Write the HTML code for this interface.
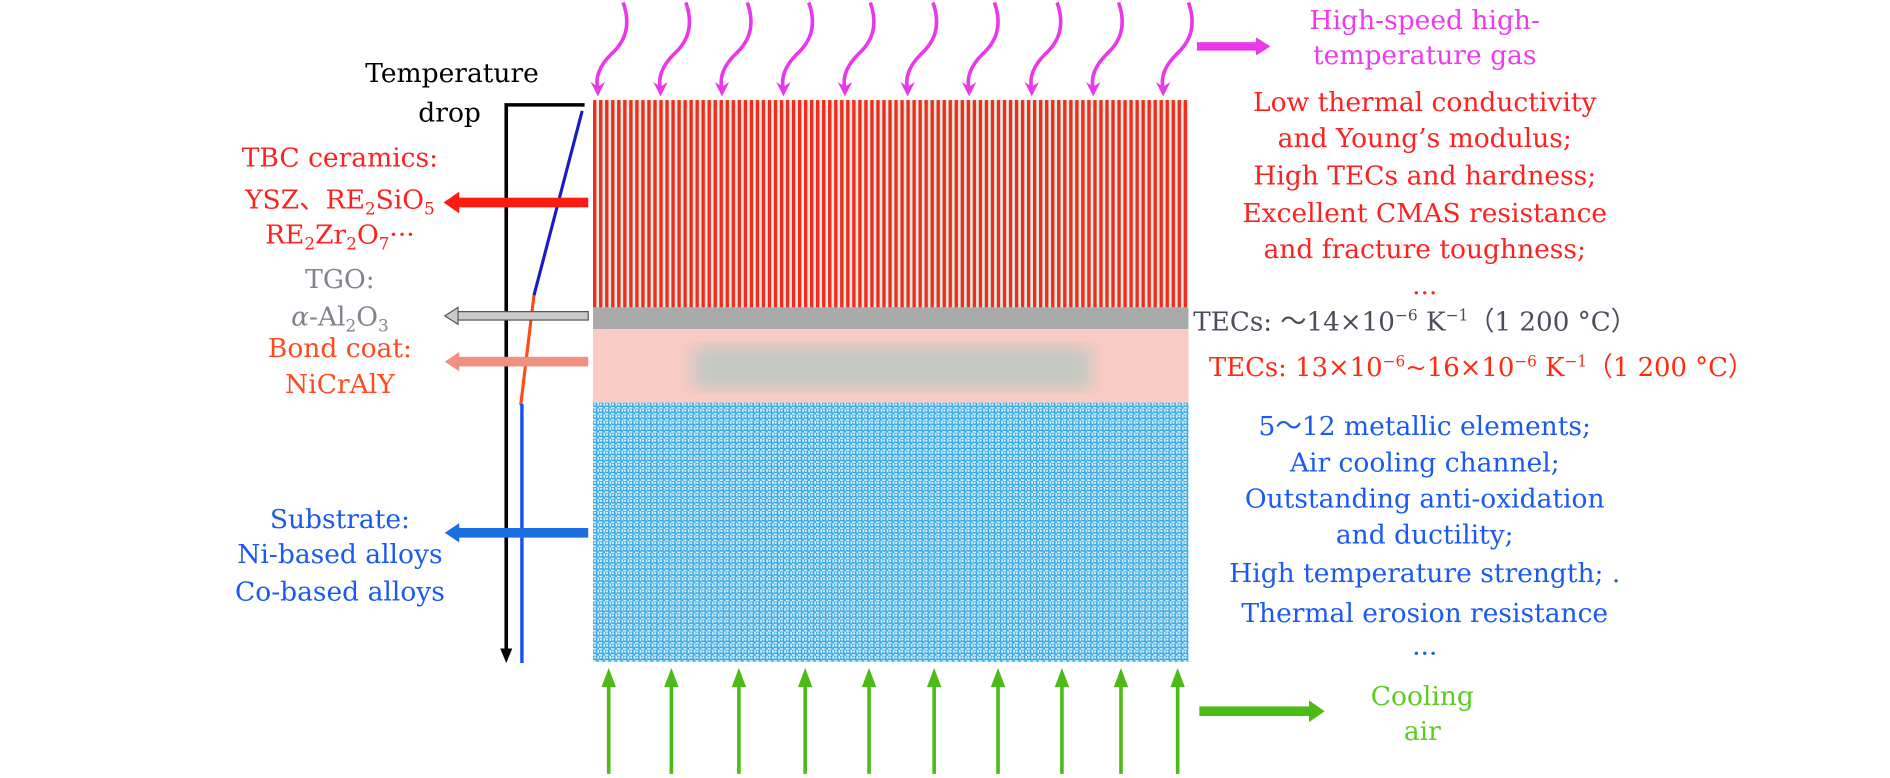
<!DOCTYPE html>
<html><head><meta charset="utf-8"><style>
html,body{margin:0;padding:0;background:#fff;}
svg{display:block;}
</style></head><body>
<svg width="1890" height="778" viewBox="0 0 1568 645.4" preserveAspectRatio="none" xmlns="http://www.w3.org/2000/svg" font-family="DejaVu Serif, Liberation Serif, serif" font-size="22">
<defs>
<pattern id="str" x="492" y="0" width="5" height="10" patternUnits="userSpaceOnUse">
<rect width="5" height="10" fill="#d8eee0"/><rect width="2.8" height="10" fill="#f52a1e"/>
</pattern>
<pattern id="dots" x="492" y="334" width="5" height="5" patternUnits="userSpaceOnUse">
<rect width="5" height="5" fill="#d8f0fa"/>
<circle cx="1.5" cy="1.5" r="1.6" fill="none" stroke="#2a9ee0" stroke-width="1.2"/>
<circle cx="4" cy="4" r="1.4" fill="#3fb0e6"/>
</pattern>
<filter id="bl"><feGaussianBlur stdDeviation="7"/></filter>
</defs>

<rect x="492" y="83" width="494" height="172" fill="url(#str)"/>
<rect x="492" y="255" width="494" height="18" fill="#a9abab"/>
<rect x="492" y="273" width="494" height="61" fill="#f8cbc4"/>
<rect x="575" y="287" width="330" height="36" fill="#c4c8c2" filter="url(#bl)"/>
<rect x="492" y="334" width="494" height="215" fill="url(#dots)"/>

<g fill="none" stroke="#e838e8" stroke-width="3">
<path d="M517,2 C524,22 518,35 507,45 C496,56 494,66 496,74"/>
<path d="M569,2 C576,22 570,35 559,45 C548,56 546,66 548,74"/>
<path d="M620,2 C627,22 621,35 610,45 C599,56 597,66 599,74"/>
<path d="M671,2 C678,22 672,35 661,45 C650,56 648,66 650,74"/>
<path d="M722,2 C729,22 723,35 712,45 C701,56 699,66 701,74"/>
<path d="M774,2 C781,22 775,35 764,45 C753,56 751,66 753,74"/>
<path d="M825,2 C832,22 826,35 815,45 C804,56 802,66 804,74"/>
<path d="M877,2 C884,22 878,35 867,45 C856,56 854,66 856,74"/>
<path d="M928,2 C935,22 929,35 918,45 C907,56 905,66 907,74"/>
<path d="M986,2 C993,22 987,35 976,45 C965,56 963,66 965,74"/>
</g>
<g fill="#e838e8">
<path d="M490,68 L496,80 L502,68 L496,72z"/><path d="M542,68 L548,80 L554,68 L548,72z"/>
<path d="M593,68 L599,80 L605,68 L599,72z"/><path d="M644,68 L650,80 L656,68 L650,72z"/>
<path d="M695,68 L701,80 L707,68 L701,72z"/><path d="M747,68 L753,80 L759,68 L753,72z"/>
<path d="M798,68 L804,80 L810,68 L804,72z"/><path d="M850,68 L856,80 L862,68 L856,72z"/>
<path d="M901,68 L907,80 L913,68 L907,72z"/><path d="M959,68 L965,80 L971,68 L965,72z"/>
</g>
<rect x="993" y="35" width="50" height="7" fill="#e838e8"/>
<path d="M1042,31 L1054,38.5 L1042,46z" fill="#e838e8"/>

<g stroke="#4cbb17" stroke-width="3">
<line x1="505" y1="642" x2="505" y2="566"/><line x1="557" y1="642" x2="557" y2="566"/>
<line x1="613" y1="642" x2="613" y2="566"/><line x1="668" y1="642" x2="668" y2="566"/>
<line x1="721" y1="642" x2="721" y2="566"/><line x1="775" y1="642" x2="775" y2="566"/>
<line x1="828" y1="642" x2="828" y2="566"/><line x1="881" y1="642" x2="881" y2="566"/>
<line x1="930" y1="642" x2="930" y2="566"/><line x1="977" y1="642" x2="977" y2="566"/>
</g>
<g fill="#4cbb17">
<path d="M499,570 L505,554 L511,570z"/><path d="M551,570 L557,554 L563,570z"/>
<path d="M607,570 L613,554 L619,570z"/><path d="M662,570 L668,554 L674,570z"/>
<path d="M715,570 L721,554 L727,570z"/><path d="M769,570 L775,554 L781,570z"/>
<path d="M822,570 L828,554 L834,570z"/><path d="M875,570 L881,554 L887,570z"/>
<path d="M924,570 L930,554 L936,570z"/><path d="M971,570 L977,554 L983,570z"/>
</g>
<rect x="995" y="586" width="92" height="8" fill="#4cbb17"/>
<path d="M1086,581 L1099,590 L1086,599z" fill="#4cbb17"/>

<path d="M485,87 L420,87 L420,540" fill="none" stroke="#000" stroke-width="3"/>
<path d="M415,538 L420,550 L425,538z" fill="#000"/>
<line x1="483" y1="92" x2="443" y2="245" stroke="#1a1ac8" stroke-width="2.6"/>
<line x1="443" y1="245" x2="432" y2="336" stroke="#ff4a1a" stroke-width="2.6"/>
<line x1="433" y1="335" x2="433" y2="550" stroke="#1450f0" stroke-width="2.8"/>

<rect x="380" y="164" width="108" height="8" fill="#ff1a10"/>
<path d="M381,159 L368,168 L381,177z" fill="#ff1a10"/>
<rect x="378" y="258.5" width="110" height="7" fill="#c9cbcb" stroke="#555" stroke-width="1"/>
<path d="M380,255 L369,262 L380,269z" fill="#c9cbcb" stroke="#555" stroke-width="1"/>
<rect x="380" y="296" width="108" height="8" fill="#f09080"/>
<path d="M381,292 L369,300 L381,308z" fill="#f09080"/>
<rect x="380" y="438" width="108" height="8" fill="#1a70e0"/>
<path d="M381,434 L369,442 L381,450z" fill="#1a70e0"/>

<text x="375" y="68" text-anchor="middle" fill="#000">Temperature</text>
<text x="373" y="101" text-anchor="middle" fill="#000">drop</text>
<g fill="#ff2020" text-anchor="middle">
<text x="282" y="138">TBC ceramics:</text>
<text x="282" y="173">YSZ、RE<tspan font-size="14" dy="5">2</tspan><tspan dy="-5">SiO</tspan><tspan font-size="14" dy="5">5</tspan></text>
<text x="282" y="202">RE<tspan font-size="14" dy="5">2</tspan><tspan dy="-5">Zr</tspan><tspan font-size="14" dy="5">2</tspan><tspan dy="-5">O</tspan><tspan font-size="14" dy="5">7</tspan><tspan dy="-5">···</tspan></text>
</g>
<g fill="#80838e" text-anchor="middle">
<text x="282" y="239">TGO:</text>
<text x="282" y="270"><tspan font-style="italic">α</tspan>-Al<tspan font-size="14" dy="5">2</tspan><tspan dy="-5">O</tspan><tspan font-size="14" dy="5">3</tspan></text>
</g>
<g fill="#ff4a20" text-anchor="middle">
<text x="282" y="296">Bond coat:</text>
<text x="282" y="326">NiCrAlY</text>
</g>
<g fill="#1a5af0" text-anchor="middle">
<text x="282" y="438">Substrate:</text>
<text x="282" y="467">Ni-based alloys</text>
<text x="282" y="498">Co-based alloys</text>
</g>

<g fill="#ee3aee" text-anchor="middle">
<text x="1182" y="24">High-speed high-</text>
<text x="1182" y="53">temperature gas</text>
</g>
<g fill="#ff2020" text-anchor="middle">
<text x="1182" y="92">Low thermal conductivity</text>
<text x="1182" y="122">and Young’s modulus;</text>
<text x="1182" y="153">High TECs and hardness;</text>
<text x="1182" y="184">Excellent CMAS resistance</text>
<text x="1182" y="214">and fracture toughness;</text>
<text x="1182" y="244">...</text>
</g>
<text x="990" y="274" fill="#4a4d5c" textLength="368" lengthAdjust="spacingAndGlyphs">TECs: ～14×10<tspan font-size="13" dy="-8">−6</tspan><tspan dy="8"> K</tspan><tspan font-size="13" dy="-8">−1</tspan><tspan dy="8">（1 200 °C）</tspan></text>
<text x="1003" y="312" fill="#ff2a10" textLength="452" lengthAdjust="spacingAndGlyphs">TECs: 13×10<tspan font-size="13" dy="-8">−6</tspan><tspan dy="8">~16×10</tspan><tspan font-size="13" dy="-8">−6</tspan><tspan dy="8"> K</tspan><tspan font-size="13" dy="-8">−1</tspan><tspan dy="8">（1 200 °C）</tspan></text>
<g fill="#1a5af0" text-anchor="middle">
<text x="1182" y="361">5～12 metallic elements;</text>
<text x="1182" y="391">Air cooling channel;</text>
<text x="1182" y="421">Outstanding anti-oxidation</text>
<text x="1182" y="451">and ductility;</text>
<text x="1182" y="483">High temperature strength; .</text>
<text x="1182" y="516">Thermal erosion resistance</text>
<text x="1182" y="543">...</text>
</g>
<g fill="#5ccc20" text-anchor="middle">
<text x="1180" y="585">Cooling</text>
<text x="1180" y="614">air</text>
</g>
</svg>
</body></html>
